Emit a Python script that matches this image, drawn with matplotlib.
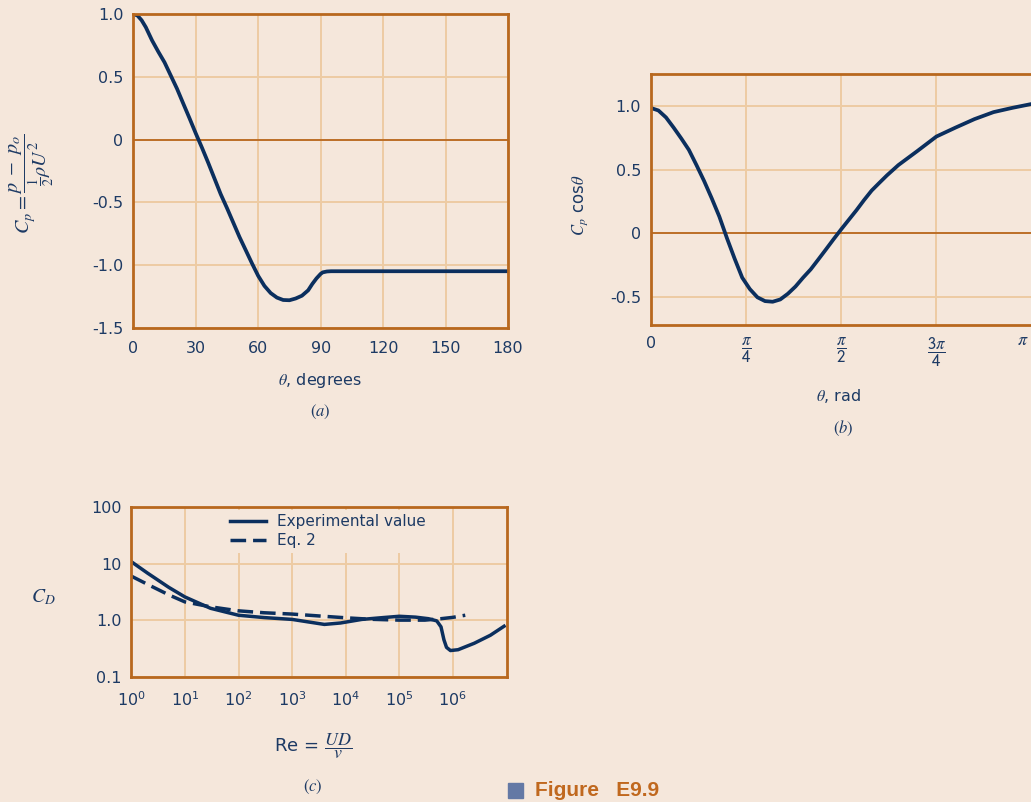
import numpy as np
import matplotlib.pyplot as plt
from matplotlib.patches import Rectangle
from matplotlib.ticker import NullLocator

# colours
bg = '#F5E7DB'
spine_c = '#B8681E'
grid_c = '#EDCBA3'
line_c = '#0B2F5E'
text_c = '#1D3A64'

# (a) pressure coefficient vs theta (degrees)
theta_a = [0, 2, 4, 6, 9, 12, 15, 18, 21, 24, 27, 30, 33, 36, 39, 42, 45, 48, 51, 54,
           57, 60, 63, 66, 69, 72, 75, 78, 81, 84, 86, 88, 90, 91, 93, 95, 180]
cp_a = [1.0, 0.988, 0.95, 0.895, 0.79, 0.70, 0.615, 0.51, 0.405, 0.287, 0.17, 0.05,
        -0.065, -0.185, -0.31, -0.435, -0.545, -0.66, -0.775, -0.88, -0.985, -1.085,
        -1.165, -1.222, -1.258, -1.277, -1.279, -1.265, -1.243, -1.20, -1.149,
        -1.105, -1.069, -1.057, -1.05, -1.048, -1.048]

# (b) Cp cos(theta), theta given as fraction of pi
theta_b = [0, 0.02, 0.04, 0.06, 0.08, 0.10, 0.12, 0.14, 0.16, 0.18, 0.20, 0.22, 0.24,
           0.26, 0.28, 0.30, 0.32, 0.34, 0.36, 0.38, 0.40, 0.42, 0.44, 0.46, 0.48,
           0.50, 0.52, 0.54, 0.56, 0.58, 0.60, 0.62, 0.65, 0.70, 0.75, 0.80, 0.85,
           0.90, 0.95, 1.0]
cpcos_b = [0.985, 0.965, 0.91, 0.83, 0.745, 0.655, 0.535, 0.41, 0.274, 0.13, -0.04,
           -0.20, -0.35, -0.44, -0.505, -0.535, -0.54, -0.522, -0.477, -0.42,
           -0.35, -0.285, -0.207, -0.128, -0.048, 0.03, 0.105, 0.18, 0.26, 0.335,
           0.395, 0.454, 0.535, 0.646, 0.76, 0.83, 0.897, 0.952, 0.986, 1.016]

# (c) drag coefficient vs Reynolds number
re_exp = [1, 2, 5, 10, 30, 100, 300, 1e3, 2e3, 4e3, 8e3, 2e4, 5e4, 1e5, 2e5, 3.5e5,
          5e5, 6e5, 6.8e5, 7.6e5, 9e5, 1.25e6, 2.5e6, 5e6, 9e6]
cd_exp = [10.8, 6.8, 3.8, 2.57, 1.62, 1.22, 1.11, 1.03, 0.93, 0.84, 0.89, 1.03, 1.11,
          1.17, 1.13, 1.06, 0.97, 0.76, 0.45, 0.33, 0.29, 0.30, 0.39, 0.54, 0.78]
re_eq = [1, 2, 5, 10, 30, 100, 300, 1e3, 3e3, 1e4, 3e4, 1e5, 3e5, 6e5, 1e6, 1.7e6]
cd_eq = [6.0, 4.3, 2.8, 2.1, 1.72, 1.46, 1.35, 1.28, 1.19, 1.10, 1.035, 1.0, 1.0,
         1.06, 1.12, 1.22]

plt.rcParams['font.family'] = ['DejaVu Sans']
plt.rcParams['mathtext.fontset'] = 'stix'
plt.rcParams['text.color'] = text_c
plt.rcParams['xtick.color'] = text_c
plt.rcParams['ytick.color'] = text_c

W, H = 1031, 802
fig = plt.figure(figsize=(W / 100, H / 100), dpi=100, facecolor=bg)


def px_axes(l, t, r, b):
    return fig.add_axes([l / W, 1 - b / H, (r - l) / W, (b - t) / H])


def style(ax):
    ax.set_facecolor(bg)
    for s in ax.spines.values():
        s.set_color(spine_c)
        s.set_linewidth(2.0)
        s.set_zorder(5)
    ax.grid(True, color=grid_c, lw=1.4, zorder=0)
    ax.set_axisbelow(True)
    ax.tick_params(length=0, labelsize=11.5, pad=7)


# ---- (a)
ax1 = px_axes(133.3, 14, 508, 328)
style(ax1)
ax1.axhline(0, color=spine_c, lw=1.3, zorder=1)
ax1.plot(theta_a, cp_a, color=line_c, lw=2.7, solid_joinstyle='round', zorder=3)
ax1.set_xlim(0, 180)
ax1.set_ylim(-1.5, 1.0)
ax1.set_xticks([0, 30, 60, 90, 120, 150, 180])
ax1.set_yticks([-1.5, -1.0, -0.5, 0, 0.5, 1.0])
ax1.set_yticklabels(['-1.5', '-1.0', '-0.5', '0', '0.5', '1.0'])
ax1.tick_params(axis='x', pad=9)
fig.text(320 / W, 1 - 380 / H, r'$\theta$, degrees', ha='center', va='center', fontsize=11.5)
fig.text(320 / W, 1 - 412 / H, r'$(a)$', ha='center', va='center', fontsize=12)
fig.text(32 / W, 1 - 184 / H, r'$C_p = \dfrac{p\ -\ p_o}{\frac{1}{2}\rho U^2}$',
         ha='center', va='center', rotation=90, fontsize=14.5)

# ---- (b)
ax2 = px_axes(650.8, 74, 1031.6, 325)
style(ax2)
ax2.axhline(0, color=spine_c, lw=1.3, zorder=1)
ax2.plot(np.array(theta_b) * np.pi, cpcos_b, color=line_c, lw=2.7,
         solid_joinstyle='round', zorder=3)
ax2.set_xlim(0, np.pi)
ax2.set_ylim(-0.723, 1.252)
ax2.set_xticks([0, np.pi / 4, np.pi / 2, 3 * np.pi / 4])
ax2.set_xticklabels(['0', r'$\dfrac{\pi}{\mathsf{4}}$', r'$\dfrac{\pi}{\mathsf{2}}$',
                     r'$\dfrac{\mathsf{3}\pi}{\mathsf{4}}$'], fontsize=12)
ax2.get_xticklabels()[0].set_fontsize(11.5)
ax2.set_yticks([-0.5, 0, 0.5, 1.0])
ax2.set_yticklabels(['-0.5', '0', '0.5', '1.0'])
ax2.tick_params(axis='x', pad=8)
# the pi label sits right at the figure edge
fig.text(1029 / W, 1 - 340 / H, r'$\pi$', ha='right', va='center', fontsize=13)
fig.text(838 / W, 1 - 396 / H, r'$\theta$, rad', ha='center', va='center', fontsize=11.5)
fig.text(843 / W, 1 - 428 / H, r'$(b)$', ha='center', va='center', fontsize=12)
fig.text(580 / W, 1 - 205 / H, r'$C_p$ cos$\theta$', ha='center', va='center',
         rotation=90, fontsize=12)

# ---- (c)
ax3 = px_axes(131.3, 507, 506.5, 676.7)
style(ax3)
ax3.set_xscale('log')
ax3.set_yscale('log')
ax3.plot(re_exp, cd_exp, color=line_c, lw=2.5, solid_joinstyle='round', zorder=3,
         label='Experimental value')
ax3.plot(re_eq, cd_eq, color=line_c, lw=2.5, dashes=(4.5, 2.0), zorder=3, label='Eq. 2')
ax3.set_xlim(1, 1e7)
ax3.set_ylim(0.1, 100)
ax3.set_xticks([10.0 ** k for k in range(7)])
ax3.set_xticklabels([r'$\mathregular{10^{%d}}$' % k for k in range(7)])
ax3.set_yticks([0.1, 1, 10, 100])
ax3.set_yticklabels(['0.1', '1.0', '10', '100'])
ax3.xaxis.set_minor_locator(NullLocator())
ax3.yaxis.set_minor_locator(NullLocator())
ax3.tick_params(axis='x', pad=10)
leg = ax3.legend(loc='upper left', bbox_to_anchor=(0.23, 1.03), frameon=True,
                 fontsize=11, handlelength=2.4, handletextpad=0.7, labelspacing=0.25,
                 borderpad=0.3)
leg.get_frame().set_facecolor(bg)
leg.get_frame().set_edgecolor('none')
leg.get_frame().set_alpha(1)
for t in leg.get_texts():
    t.set_color(text_c)
fig.text(43 / W, 1 - 597 / H, r'$C_D$', ha='center', va='center', fontsize=14)
fig.text(313 / W, 1 - 746 / H, r'Re = $\dfrac{UD}{v}$', ha='center', va='center',
         fontsize=13)
fig.text(313 / W, 1 - 787 / H, r'$(c)$', ha='center', va='center', fontsize=12)

# caption
fig.patches.append(Rectangle((508 / W, 1 - 798 / H), 15 / W, 15 / H,
                             transform=fig.transFigure, color='#6479A5'))
fig.text(535 / W, 1 - 790 / H, 'Figure   E9.9', ha='left', va='center',
         fontsize=15, fontweight='bold', color='#C0681E', family='Liberation Sans')

fig.savefig('out.png', dpi=100, facecolor=bg)
